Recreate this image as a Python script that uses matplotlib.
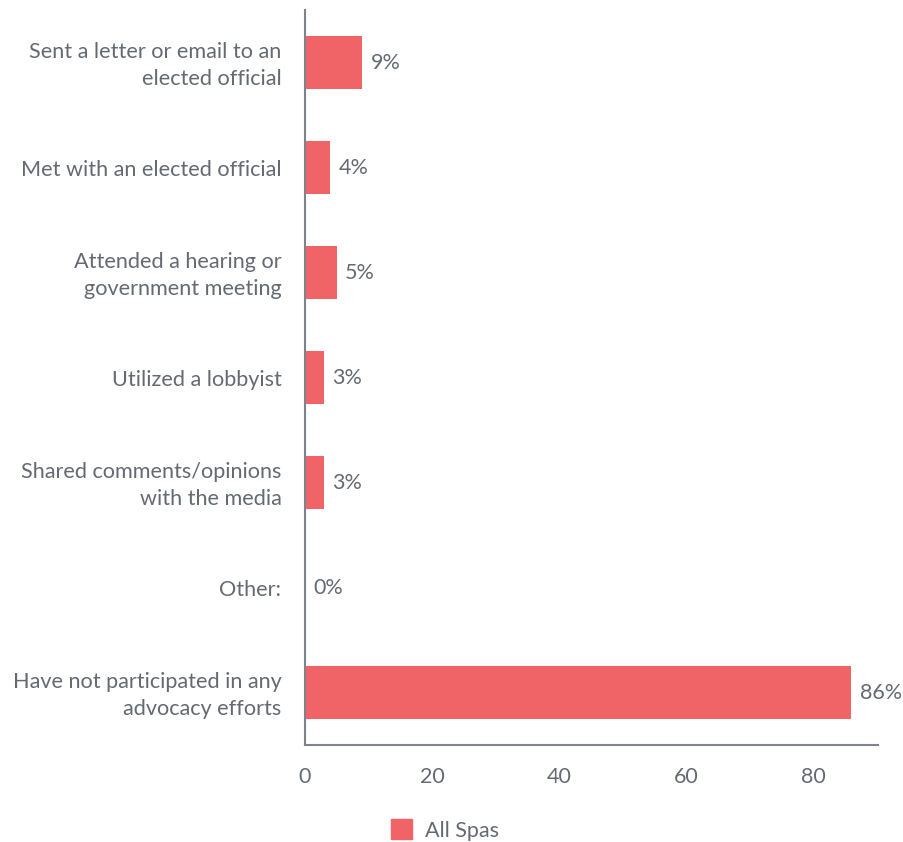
import matplotlib
matplotlib.use("Agg")
import matplotlib.pyplot as plt
import matplotlib.transforms as mtransforms
from matplotlib.patches import Patch

categories = [
    "Sent a letter or email to an\nelected official",
    "Met with an elected official",
    "Attended a hearing or\ngovernment meeting",
    "Utilized a lobbyist",
    "Shared comments/opinions\nwith the media",
    "Other:",
    "Have not participated in any\nadvocacy efforts",
]
values = [9, 4, 5, 3, 3, 0, 86]
series_name = "All Spas"
xticks = [0, 20, 40, 60, 80]

bar_color = "#f06468"
text_color = "#656a72"
axis_color = "#7d838a"

plt.rcParams['font.family'] = ['Lato', 'DejaVu Sans']

fig = plt.figure(figsize=(9.04, 8.42), dpi=100)
ax = fig.add_axes([305/904, 97/842, (878-305)/904, (745-10)/842])

y = list(range(len(categories)))
ax.barh(y, values, height=0.5, color=bar_color)
for yi, v in zip(y, values):
    ax.annotate(f"{v}%", xy=(v, yi), xytext=(6, 0), textcoords="offset points",
                va="center", ha="left", fontsize=15.5, color=text_color)

ax.set_ylim(len(categories) - 0.5, -0.5)
ax.set_xlim(0, 90.2)
ax.set_yticks(y)
ax.set_yticklabels(categories, fontsize=15.6, color=text_color, linespacing=1.45)
ax.set_xticks(xticks)
ax.set_xticklabels([str(t) for t in xticks], fontsize=15.5, color=text_color)
ax.tick_params(axis='both', length=0)
ax.tick_params(axis='y', pad=17)
ax.tick_params(axis='x', pad=16)
for s in ["top", "right"]:
    ax.spines[s].set_visible(False)
for s in ["left", "bottom"]:
    ax.spines[s].set_color(axis_color)
    ax.spines[s].set_linewidth(1.5)

shift = mtransforms.ScaledTranslation(0, 3/100, fig.dpi_scale_trans)
for lbl in ax.get_yticklabels():
    if "\n" in lbl.get_text():
        lbl.set_transform(lbl.get_transform() + shift)

fig.legend(handles=[Patch(color=bar_color, label=series_name)],
           loc="center", bbox_to_anchor=(445/904, 1 - 830/842), frameon=False,
           fontsize=15.5, labelcolor=text_color, handlelength=1.0, handleheight=1.0,
           handletextpad=0.6)

fig.savefig("out.png", dpi=100)
